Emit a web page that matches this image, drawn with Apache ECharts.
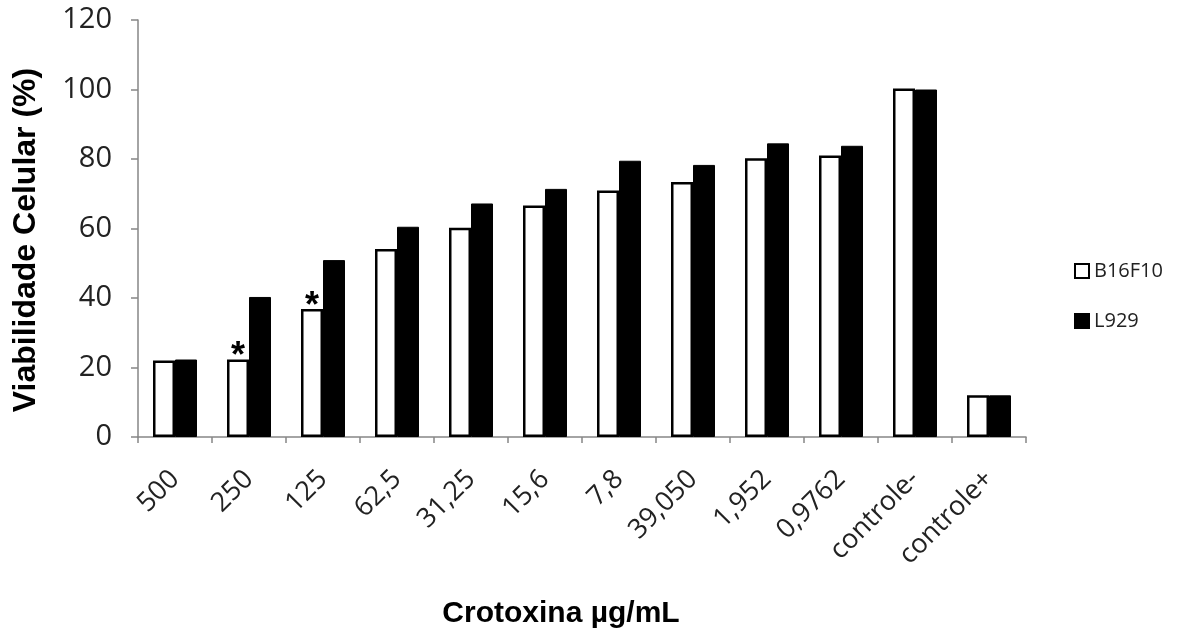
<!DOCTYPE html>
<html>
<head>
<meta charset="utf-8">
<script src="https://cdn.jsdelivr.net/npm/echarts@6/dist/echarts.min.js"></script>
<style>html,body{margin:0;padding:0;background:#fff;}#c{width:1194px;height:630px;}</style>
</head>
<body>
<div id="c"></div>
<script>
const categories = ['500', '250', '125', '62,5', '31,25', '15,6', '7,8', '39,050', '1,952', '0,9762', 'controle-', 'controle+'];
const b16f10 = [22, 22.3, 36.8, 54.1, 60.2, 66.6, 70.9, 73.4, 80.2, 81, 100.3, 12];
const l929 = [22.3, 40.3, 50.9, 60.5, 67.2, 71.4, 79.5, 78.3, 84.5, 83.8, 100, 12];
const b16f10Marks = ['', '*', '*', '', '', '', '', '', '', '', '', ''];
const yTicks = [0, 20, 40, 60, 80, 100, 120];
const xTitle = 'Crotoxina µg/mL';
const yTitle = 'Viabilidade Celular (%)';

const chart = echarts.init(document.getElementById('c'), null, {renderer: 'canvas'});
const tickFont = '"Open Sans", sans-serif';
const titleFont = '"Liberation Sans", Arial, sans-serif';

chart.setOption({
  animation: false,
  backgroundColor: '#fff',
  grid: {left: 138, right: 168, top: 20, bottom: 193, containLabel: false},
  xAxis: {
    type: 'category',
    data: categories,
    axisLine: {lineStyle: {color: '#868686', width: 1.5}},
    axisTick: {show: true, alignWithLabel: false, length: 6, inside: false, lineStyle: {color: '#868686', width: 1.5}},
    axisLabel: {rotate: 45, fontSize: 27, color: '#222', fontFamily: tickFont, margin: 38, interval: 0},
    splitLine: {show: false}
  },
  yAxis: {
    type: 'value',
    min: yTicks[0], max: yTicks[yTicks.length - 1], interval: 20,
    axisLine: {show: true, lineStyle: {color: '#868686', width: 1.5}},
    axisTick: {show: true, length: 7, lineStyle: {color: '#868686', width: 1.5}},
    axisLabel: {fontSize: 29, color: '#222', fontFamily: tickFont, margin: 26},
    splitLine: {show: false}
  },
  legend: {
    orient: 'vertical',
    left: 1069, top: 256,
    itemWidth: 14, itemHeight: 14, itemGap: 30,
    icon: 'rect',
    textStyle: {fontSize: 20, color: '#222', fontFamily: tickFont, padding: [0, 0, 0, 0]},
    data: ['B16F10', 'L929']
  },
  series: [
    {
      name: 'B16F10', type: 'bar', barWidth: 22, barGap: '0%',
      itemStyle: {color: '#fff', borderColor: '#000', borderWidth: 2.5},
      data: b16f10.map((v, i) => b16f10Marks[i] ? {value: v, label: {show: true, position: 'top', formatter: b16f10Marks[i], fontSize: 36, fontWeight: 'bold', color: '#000', fontFamily: titleFont, distance: -16}} : v)
    },
    {
      name: 'L929', type: 'bar', barWidth: 22, barGap: '0%',
      itemStyle: {color: '#000', borderColor: '#000', borderWidth: 1},
      data: l929
    }
  ],
  graphic: [
    {type: 'text', x: 561, y: 614, style: {text: xTitle, font: 'bold 30px ' + titleFont, fill: '#000', textAlign: 'center', textVerticalAlign: 'middle'}},
    {type: 'text', x: 26, y: 240, rotation: Math.PI / 2, style: {text: yTitle, font: 'bold 32px ' + titleFont, fill: '#000', textAlign: 'center', textVerticalAlign: 'middle'}}
  ]
});
</script>
</body>
</html>
